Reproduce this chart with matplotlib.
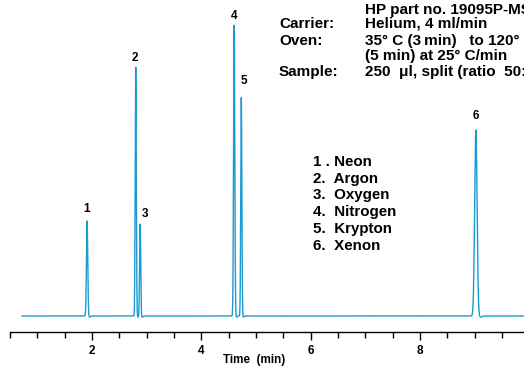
import numpy as np
from matplotlib import pyplot as plt

plt.rcParams['font.family'] = ['Liberation Sans', 'DejaVu Sans']
plt.rcParams['font.weight'] = 'bold'

# Peaks
peak_ids = ['1', '2', '3', '4', '5', '6']
peak_times = [1.91, 2.80, 2.88, 4.60, 4.73, 9.02]    # min
peak_heights = [95, 249, 92, 291, 219, 186]          # detector response
peak_sigmas = [0.012, 0.010, 0.010, 0.011, 0.010, 0.022]
label_offsets = [(-1, 12), (-1, 9), (5, 10), (0, 9), (3, 16), (0, 14)]  # px

compounds = ['1 . Neon', '2.  Argon', '3.  Oxygen', '4.  Nitrogen', '5.  Krypton', '6.  Xenon']

cond_labels = ['', 'Carrier:', 'Oven:', '', 'Sample:']
cond_values = ['HP part no. 19095P-MS6', 'Helium, 4 ml/min',
               '35\u00b0 C (3\u2009min)   to 120\u00b0 C',
               '(5 min) at 25\u00b0 C/min', '250  \u03bcl, split (ratio  50:1)']
cond_rows = [10, 24, 41, 56, 72]

W, H = 524, 369
fig = plt.figure(figsize=(W / 100, H / 100), dpi=100)
ax = fig.add_axes([10 / W, 1 - 332 / H, 1 - 10 / W, 332 / H])

t = np.linspace(0.72, 10.2, 6000)
signal = np.zeros_like(t)
for t0, h, s in zip(peak_times, peak_heights, peak_sigmas):
    signal += h * np.exp(-0.5 * ((t - t0) / s) ** 2)
    # small undershoot right after each peak
    signal -= 1.2 * np.exp(-0.5 * ((t - t0 - 3.5 * s) / (1.5 * s)) ** 2)

ax.plot(t, signal, color='#1b9bd1', lw=1.0)

for pid, t0, h, (dx, dy) in zip(peak_ids, peak_times, peak_heights, label_offsets):
    ax.annotate(pid, (t0, h), xytext=(dx * 0.72, dy * 0.72), textcoords='offset points',
                ha='center', va='center', fontsize=8.5, fontweight='bold')

ax.set_xlim(0.5, 9.9)
ax.set_ylim(-16, 316)
ax.set_xticks([2, 4, 6, 8])
ax.set_xticks(np.arange(0.5, 10, 0.5), minor=True)
ax.tick_params(axis='x', which='major', length=6, width=1, labelsize=8.5, pad=3)
ax.tick_params(axis='x', which='minor', length=4, width=1)
ax.set_yticks([])
for side in ['left', 'right', 'top']:
    ax.spines[side].set_visible(False)
ax.spines['bottom'].set_linewidth(1)
ax.set_xlabel('Time  (min)', fontsize=8.4, fontweight='bold')
ax.xaxis.set_label_coords((254 - 10) / (W - 10), -(354 - 332) / 332)

for lab, val, y in zip(cond_labels, cond_values, cond_rows):
    fig.text(279 / W, 1 - y / H, lab, fontsize=11, fontweight='bold', va='center')
    fig.text(365 / W, 1 - y / H, val, fontsize=11, fontweight='bold', va='center')

for i, c in enumerate(compounds):
    fig.text(313 / W, 1 - (162 + i * 16.7) / H, c, fontsize=10.9, fontweight='bold', va='center')

fig.savefig('out.png', dpi=100)
